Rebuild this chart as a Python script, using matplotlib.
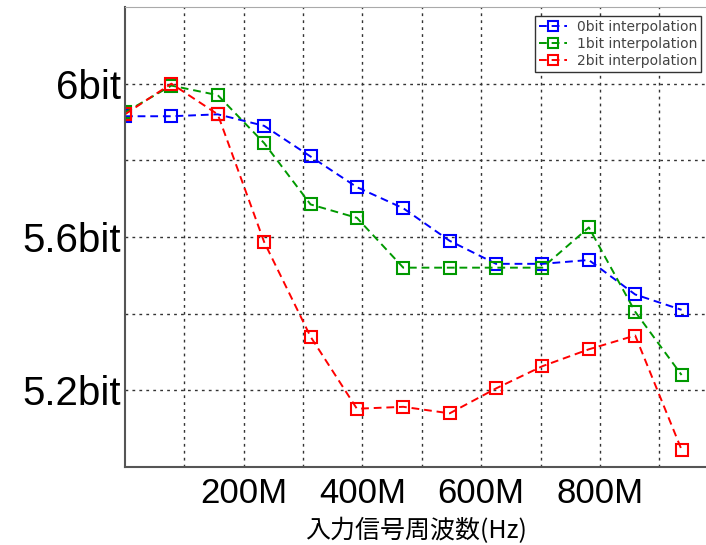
import numpy as np
import matplotlib.pyplot as plt

# frequency steps (MHz) and measured ENOB
freq = np.arange(13) * 78.125
enob_0bit = [5.915, 5.915, 5.92, 5.89, 5.81, 5.73, 5.675, 5.59, 5.53, 5.53, 5.54, 5.45, 5.41]
enob_1bit = [5.925, 5.995, 5.97, 5.845, 5.685, 5.65, 5.52, 5.52, 5.52, 5.52, 5.625, 5.405, 5.24]
enob_2bit = [5.92, 6.0, 5.92, 5.587, 5.34, 5.152, 5.157, 5.14, 5.205, 5.263, 5.307, 5.343, 5.045]
labels = ['0bit interpolation', '1bit interpolation', '2bit interpolation']
colors = ['#0000ff', '#009900', '#ff0000']

xticks = np.arange(100, 1000, 100)
xticklabels = ['' if t % 200 else '%dM' % t for t in xticks]
yticks = [5.2, 5.4, 5.6, 5.8, 6.0]
yticklabels = ['5.2bit', '', '5.6bit', '', '6bit']

W, H = 706, 545
fig = plt.figure(figsize=(W / 100, H / 100), dpi=100)
ax = fig.add_axes([125 / W, 1 - 467 / H, (W - 123) / W, (467 - 7) / H])

for ys, lab, c in zip([enob_0bit, enob_1bit, enob_2bit], labels, colors):
    ax.plot(freq, ys, '--', color=c, lw=1.4, marker='s', ms=9,
            mfc='none', mec=c, mew=1.5, label=lab, dashes=(4, 2.5))

ax.set_xlim(0, 982)
ax.set_ylim(5.0, 6.2)
ax.set_xticks(xticks)
ax.set_xticklabels(xticklabels, fontsize=25, family='Liberation Sans')
ax.set_yticks(yticks)
ax.set_yticklabels(yticklabels, fontsize=29, family='Liberation Sans')
ax.tick_params(length=0, pad=3)
ax.tick_params(axis='x', pad=7)
ax.grid(True, color='#333333', ls=(0, (2, 3)), lw=1.0)
for s in ['left', 'bottom']:
    ax.spines[s].set_color('#555555')
    ax.spines[s].set_linewidth(1.5)
ax.spines['top'].set_color('#aaaaaa')
ax.spines['right'].set_visible(False)

ax.set_xlabel('入力信号周波数(Hz)', fontsize=18, family=['Noto Sans CJK JP'], labelpad=6)

leg = ax.legend(loc='upper left', bbox_to_anchor=(535 / W, 1 - 16 / H),
                bbox_transform=fig.transFigure, fontsize=10, fancybox=False,
                edgecolor='#333333', framealpha=1, borderpad=0.3,
                labelspacing=0.2, handlelength=2.0, handletextpad=0.7,
                borderaxespad=0, markerscale=0.8)
leg.get_frame().set_linewidth(1.0)
for t in leg.get_texts():
    t.set_color('#444444')

fig.savefig('out.png', dpi=100)
